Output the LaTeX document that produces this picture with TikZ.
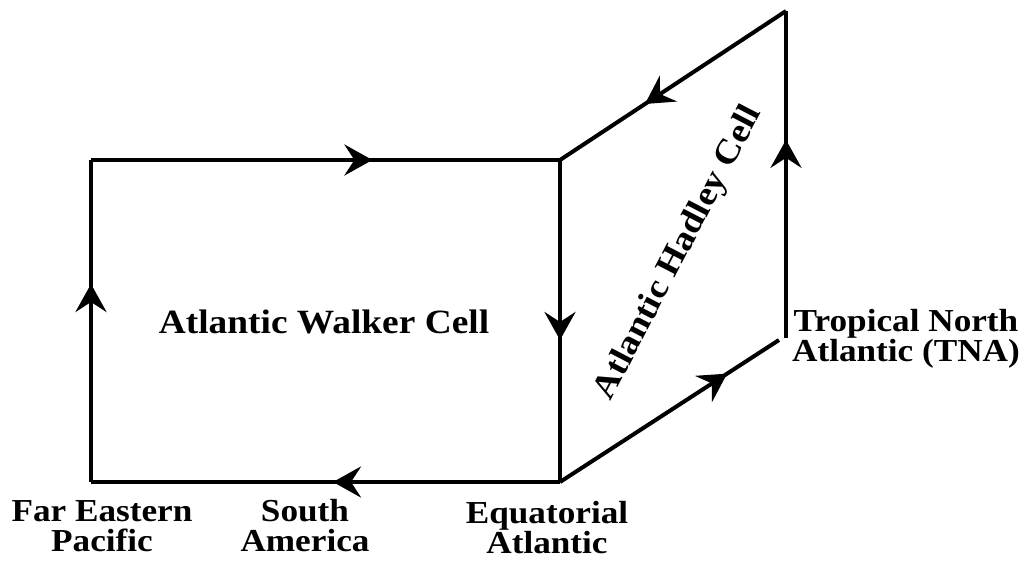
\documentclass[tikz,border=0pt]{standalone}
\usepackage{fontspec}
\setmainfont{Liberation Serif}[FakeStretch=1.1]
\usetikzlibrary{arrows.meta,decorations.markings}
\begin{document}
\begin{tikzpicture}[x=1pt,y=-1pt,
  edge/.style={line width=4pt, line join=miter},
  tipmark/.style={postaction={decorate,decoration={markings,mark=at position #1 with {\arrow{Stealth[length=28pt,width=31pt,inset=10pt]}}}}},
  lbl/.style={font=\fontsize{32}{30}\selectfont\bfseries, align=center, inner sep=0pt},
  biglbl/.style={font=\fontsize{34}{32}\selectfont\bfseries, inner sep=0pt}]
\useasboundingbox (0,0) rectangle (1025,562);
\coordinate (FL) at (91,482);
\coordinate (TL) at (91,160);
\coordinate (TR) at (560,160);
\coordinate (BR) at (560,482);
\coordinate (BT) at (786,11);
\coordinate (VB) at (786,338);
\coordinate (SE) at (779,340);
\draw[edge, tipmark=0.615] (FL) -- (TL);
\draw[edge, tipmark=0.6] (TL) -- (TR);
\draw[edge, tipmark=0.559] (TR) -- (BR);
\draw[edge, tipmark=0.484] (BR) -- (FL);
\draw[edge, tipmark=0.763] (BR) -- (SE);
\draw[edge, tipmark=0.606] (VB) -- (BT);
\draw[edge, tipmark=0.624] (BT) -- (TR);
\node[biglbl] (walker) at (324,322) {Atlantic Walker Cell};
\node[biglbl, rotate=62.5] (hadley) at (679,253) {Atlantic Hadley Cell};
\node[lbl] (fep) at (102,526) {Far Eastern\\Pacific};
\node[lbl] (sa) at (305,526) {South\\America};
\node[lbl] (ea) at (547,528) {Equatorial\\Atlantic};
\node[lbl] (tna) at (906,339) {Tropical North\\Atlantic (TNA)};
\end{tikzpicture}
\end{document}
